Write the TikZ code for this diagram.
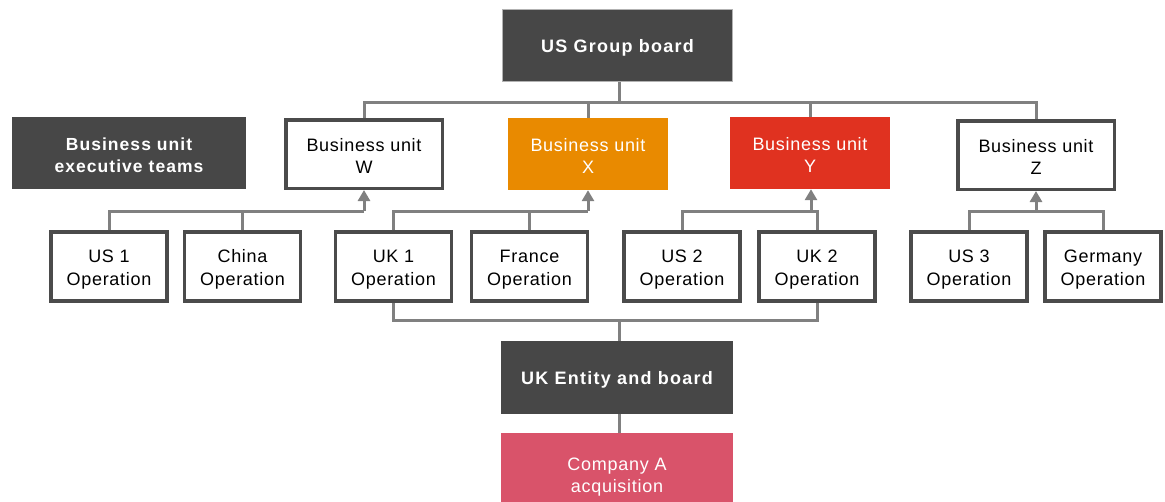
\documentclass[tikz,border=0pt]{standalone}
\usepackage{fontspec}
\setmainfont{Liberation Sans}
\usetikzlibrary{arrows.meta,calc}
\definecolor{darkbox}{HTML}{474747}
\definecolor{orangebox}{HTML}{E98A00}
\definecolor{redbox}{HTML}{E03220}
\definecolor{pinkbox}{HTML}{D9536A}
\definecolor{linegray}{HTML}{808080}
\definecolor{bordergray}{HTML}{4B4B4B}
\tikzset{
  base/.style={rectangle, align=center, inner sep=0pt, font=\fontsize{18}{22}\selectfont\addfontfeatures{LetterSpace=4}},
  opbox/.style={base, execute at begin node={\rule{0pt}{42pt}}, draw=bordergray, line width=3.5pt, fill=white, minimum width=116pt, minimum height=69pt, font=\fontsize{18}{23}\selectfont\addfontfeatures{LetterSpace=4}},
  bubox/.style={base, execute at begin node={\rule{0pt}{39pt}}, minimum width=160pt, minimum height=72pt},
  buwhite/.style={bubox, draw=bordergray, line width=3.5pt, fill=white, minimum width=156.5pt, minimum height=68.5pt},
  darkbx/.style={base, fill=darkbox, text=white, font=\fontsize{18}{22}\selectfont\bfseries\addfontfeatures{LetterSpace=7}},
  conn/.style={draw=linegray, line width=3pt},
  arr/.style={conn, -{Triangle[length=11pt,width=12pt]}}
}
\begin{document}
\begin{tikzpicture}[x=1pt,y=-1pt]
\useasboundingbox (0,0) rectangle (1165,501);
% top
\node[darkbx, draw=gray!60, line width=1pt, minimum width=230pt, minimum height=72pt, execute at begin node={\rule{0pt}{18pt}}] (usg) at (617.5,45.5) {US Group board};
\node[darkbx, minimum width=234pt, minimum height=72pt, execute at begin node={\rule{0pt}{39pt}}, font=\fontsize{17.5}{22}\selectfont\bfseries\addfontfeatures{LetterSpace=6}] (exec) at (129,153) {Business unit\\executive teams};
% business units
\node[buwhite] (bw) at (364,154) {Business unit\\W};
\node[bubox, fill=orangebox, text=white] (bx) at (588,154) {Business unit\\X};
\node[bubox, fill=redbox, text=white] (by) at (810,153) {Business unit\\Y};
\node[buwhite] (bz) at (1036,155) {Business unit\\Z};
% operations
\node[opbox] (us1) at (109,266.5) {US 1\\Operation};
\node[opbox] (china) at (242.5,266.5) {China\\Operation};
\node[opbox] (uk1) at (393.5,266.5) {UK 1\\Operation};
\node[opbox] (france) at (529.5,266.5) {France\\Operation};
\node[opbox] (us2) at (682,266.5) {US 2\\Operation};
\node[opbox] (uk2) at (817,266.5) {UK 2\\Operation};
\node[opbox] (us3) at (969,266.5) {US 3\\Operation};
\node[opbox] (germany) at (1103,266.5) {Germany\\Operation};
% bottom
\node[darkbx, minimum width=232pt, minimum height=73pt, execute at begin node={\rule{0pt}{18pt}}] (uke) at (617,377.5) {UK Entity and board};
\node[base, fill=pinkbox, text=white, minimum width=232pt, minimum height=88pt] (compa) at (617,477) {Company A\\acquisition};
% coordinates
\coordinate (topbus) at (619,102);
\coordinate (botbus) at (619,320);
\coordinate (jw) at (364,211);
\coordinate (jx) at (588,211);
\coordinate (jy) at (811,211);
\coordinate (jz) at (1036,211);
% top bus
\draw[conn] (usg.south -| topbus) -- (topbus);
\draw[conn] (bw.north) |- (topbus) -| (bz.north);
\draw[conn] (bx.north) -- (bx.north |- topbus);
\draw[conn] (by.north) -- (by.north |- topbus);
% W group
\draw[conn] (us1.north) |- (jw);
\draw[conn] (china.north) -- (china.north |- jw);
\draw[arr] (jw) -- (bw.south);
% X group
\draw[conn] (uk1.north) |- (jx);
\draw[conn] (france.north) -- (france.north |- jx);
\draw[arr] (jx) -- (bx.south);
% Y group
\draw[conn] (us2.north) |- (jy) -| (uk2.north);
\draw[arr] (jy) -- (jy |- by.south);
% Z group
\draw[conn] (us3.north) |- (jz) -| (germany.north);
\draw[arr] (jz) -- (bz.south);
% bottom bus
\draw[conn] (uk1.south) |- (botbus) -| (uk2.south);
\draw[conn] (botbus) -- (botbus |- uke.north);
\draw[conn] (uke.south -| botbus) -- (botbus |- compa.north);
\end{tikzpicture}
\end{document}
